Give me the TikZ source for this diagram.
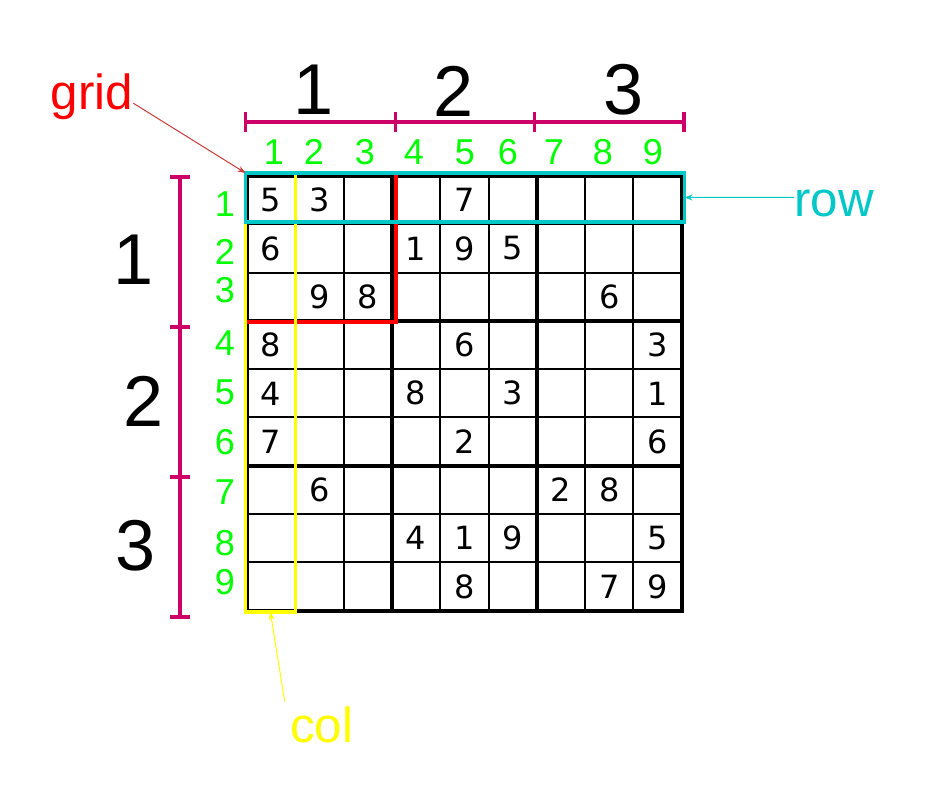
\documentclass[tikz,border=0pt]{standalone}
\usepackage{fontspec}
\setmainfont{Liberation Sans}
\newfontfamily\cellfont{DejaVu Sans}
\usetikzlibrary{arrows.meta}
\definecolor{bracemag}{HTML}{CC0066}
\definecolor{idxgreen}{HTML}{00FF00}
\definecolor{rowcyan}{HTML}{00C8C8}
\definecolor{colyellow}{HTML}{FFFF00}
\definecolor{gridred}{HTML}{FF0000}
\definecolor{pointred}{HTML}{CC3A3A}

\begin{document}
\begin{tikzpicture}[x=0.75pt, y=-0.75pt,
  bignum/.style={font=\fontsize{54}{60}\selectfont, inner sep=0},
  idxnum/.style={text=idxgreen, font=\fontsize{27}{30}\selectfont, inner sep=0},
  cellnum/.style={font=\cellfont\fontsize{24}{28}\selectfont, inner sep=0},
  tag/.style={font=\fontsize{37}{42}\selectfont, inner sep=0, anchor=base west},
  selbox/.style={draw, line width=2.4pt, inner sep=0, outer sep=0},
  brace/.style={draw=bracemag, line width=2.6pt},
  thinline/.style={line width=1.5pt},
  thickline/.style={line width=3pt, line cap=rect},
  pointer/.style={-{Stealth[length=6pt, width=4.5pt]}, line width=0.75pt}]
  \useasboundingbox (0,0) rectangle (925,805);

  \begin{scope}[shift={(247,176)}, x=36.225pt, y=-36.225pt]
    \foreach \k in {1,2,4,5,7,8} {
      \draw[thinline] (\k,0) -- (\k,9);
      \draw[thinline] (0,\k) -- (9,\k);
    }
    \foreach \k in {0,3,6,9} {
      \draw[thickline] (\k,0) -- (\k,9);
      \draw[thickline] (0,\k) -- (9,\k);
    }
    \foreach \r/\c/\v in {1/1/5, 1/2/3, 1/5/7,
                         2/1/6, 2/4/1, 2/5/9, 2/6/5,
                         3/2/9, 3/3/8, 3/8/6,
                         4/1/8, 4/5/6, 4/9/3,
                         5/1/4, 5/4/8, 5/6/3, 5/9/1,
                         6/1/7, 6/5/2, 6/9/6,
                         7/2/6, 7/7/2, 7/8/8,
                         8/4/4, 8/5/1, 8/6/9, 8/9/5,
                         9/5/8, 9/8/7, 9/9/9}
      \node[cellnum] (c\r\c) at (\c-0.5,\r-0.5) {\v};
  \end{scope}

  \node[selbox, draw=gridred, minimum width=112.9pt, minimum height=111.75pt] (gridsel) at (320.75,247.5) {};
  \node[selbox, draw=colyellow, minimum width=37.35pt, minimum height=329.25pt] (colsel) at (270.4,392.5) {};
  \node[selbox, draw=rowcyan, minimum width=329.25pt, minimum height=36.75pt] (rowsel) at (465,197.5) {};

  \draw[brace] (245.7,122) -- (684,122);
  \foreach \x in {245.7,395.7,534.7,684}
    \draw[brace] (\x,112) -- (\x,132);
  \draw[brace] (180,177) -- (180,617);
  \foreach \y in {177,327,477,617}
    \draw[brace] (170,\y) -- (190,\y);

  \node[bignum] (top1) at (314,90) {1};
  \node[bignum] (top2) at (454,91) {2};
  \node[bignum] (top3) at (624,90) {3};
  \node[bignum] (left1) at (134,260) {1};
  \node[bignum] (left2) at (144,401) {2};
  \node[bignum] (left3) at (136,546) {3};

  \foreach \n/\x in {1/274, 2/314, 3/365, 4/414, 5/465, 6/508, 7/554, 8/603, 9/653}
    \node[idxnum] (colidx\n) at (\x,152) {\n};
  \foreach \n/\y in {1/204, 2/252, 3/290, 4/343, 5/392, 6/442, 7/492, 8/543, 9/582}
    \node[idxnum] (rowidx\n) at (225,\y) {\n};

  \node[tag, text=gridred] (gridlbl) at (50.5,109.3) {grid};
  \node[tag, text=rowcyan] (rowlbl) at (794,217) {row};
  \node[tag, text=colyellow] (collbl) at (290,742.7) {col};

  \draw[pointer, color=pointred] ([yshift=-5pt]gridlbl.east) -- (gridsel.north west);
  \draw[pointer, color=rowcyan] ([yshift=5pt]rowlbl.west) -- (rowsel.east);
  \draw[pointer, color=colyellow] ([xshift=-4pt,yshift=4pt]collbl.north west) -- (colsel.south);
\end{tikzpicture}
\end{document}
